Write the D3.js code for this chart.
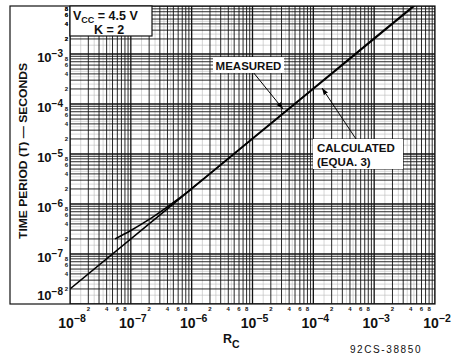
<!DOCTYPE html>
<html><head><meta charset="utf-8">
<script src="https://cdn.jsdelivr.net/npm/d3@7"></script>
<style>body{margin:0;background:#fff}svg{display:block}text{font-family:"Liberation Sans",Arial,sans-serif;fill:#111}</style>
</head><body>
<svg id="c" width="453" height="354"></svg>
<script>
// ---- data ----
const xDecadeExps = [-8, -7, -6, -5, -4, -3, -2];
const yDecadeExps = [-8, -7, -6, -5, -4, -3, -2];
const minorLabels = [2, 4, 6, 8];
const calcRC = [1e-8, 1e-6, 1e-4, 4.6e-3];
const calcT  = [2e-8, 2e-6, 2e-4, 9.2e-3];
const measRC = [5.5e-8, 1e-7, 2e-7, 4e-7, 7e-7, 1e-6, 1e-5, 1e-4, 1e-3, 4.6e-3];
const measT  = [2.0e-7, 2.95e-7, 4.9e-7, 8.8e-7, 1.45e-6, 2.05e-6, 2.05e-5, 2.06e-4, 2.07e-3, 9.5e-3];
const legendLines = ["4.5 V", "K = 2"];

// ---- layout ----
const svg = d3.select("#c");
const L = 70, R = 435, T = 6, B = 304;
const x = d3.scaleLog().domain([1e-8, 1e-2]).range([L, R]);
const y = d3.scaleLog().domain([1e-8, 1e-2]).range([B, 4]);

svg.append("defs").append("clipPath").attr("id","clip")
  .append("rect").attr("x",L).attr("y",T).attr("width",R-L).attr("height",B-T);
const g = svg.append("g").attr("clip-path","url(#clip)");

// grid values
const intVals = [], halfVals = [];
for (let e = -8; e < -2; e++) {
  const d = Math.pow(10, e);
  for (let m = 1; m <= 9; m++) intVals.push({v: m*d, major: m === 1});
  for (let m = 1; m <= 4; m++) halfVals.push((m+0.5)*d);
}
intVals.push({v: 1e-2, major: true});

// light grid
g.selectAll(".hx").data(halfVals).join("line")
  .attr("x1", d=>x(d)).attr("x2", d=>x(d)).attr("y1", T).attr("y2", B)
  .attr("stroke", "#bbb").attr("stroke-width", 0.6);
g.selectAll(".hy").data(halfVals).join("line")
  .attr("y1", d=>y(d)).attr("y2", d=>y(d)).attr("x1", L).attr("x2", R)
  .attr("stroke", "#bbb").attr("stroke-width", 0.6);
// dark grid
g.selectAll(".gx").data(intVals).join("line")
  .attr("x1", d=>x(d.v)).attr("x2", d=>x(d.v)).attr("y1", T).attr("y2", B)
  .attr("stroke", "#111").attr("stroke-width", d=>d.major?1.3:0.9);
g.selectAll(".gy").data(intVals).join("line")
  .attr("y1", d=>y(d.v)).attr("y2", d=>y(d.v)).attr("x1", L).attr("x2", R)
  .attr("stroke", "#111").attr("stroke-width", d=>d.major?1.3:0.9);

// curves
const line = d3.line().x(d=>x(d[0])).y(d=>y(d[1])).curve(d3.curveMonotoneX);
g.append("path").datum(d3.zip(calcRC, calcT)).attr("d", line)
  .attr("fill","none").attr("stroke","#000").attr("stroke-width",1.5);
g.append("path").datum(d3.zip(measRC, measT)).attr("d", line)
  .attr("fill","none").attr("stroke","#000").attr("stroke-width",1.5);

// frame
svg.append("rect").attr("x",10).attr("y",T).attr("width",R-10).attr("height",B-T)
  .attr("fill","none").attr("stroke","#111").attr("stroke-width",1.2);
svg.append("line").attr("x1",L).attr("x2",L).attr("y1",T).attr("y2",B)
  .attr("stroke","#111").attr("stroke-width",1.2);

// y decade labels
yDecadeExps.filter(e=>e<-2).forEach(e=>{
  const yy = y(Math.pow(10,e));
  const base = e === -8 ? yy - 4 : yy + 8;
  const t = svg.append("text").attr("x",63).attr("y",base).attr("text-anchor","end")
    .attr("font-size",13).attr("font-weight","bold");
  t.append("tspan").text("10");
  t.append("tspan").attr("dy",-5).attr("font-size",10).text("\u2212" + (-e));
});
// y minor labels
const yMinor = [];
for (let e = -8; e < -2; e++) minorLabels.forEach(m=>yMinor.push({v:m*Math.pow(10,e), m}));
minorLabels.forEach(m=>{ if (m*1e-3 < 9.5e-3) yMinor.push({v:m*1e-3, m}); });
svg.selectAll(".ym").data(yMinor).join("text")
  .attr("x",66.5).attr("y",d=>y(d.v)+2).attr("text-anchor","middle")
  .attr("font-size",6).attr("font-weight","bold").text(d=>d.m);

// x decade labels
xDecadeExps.forEach(e=>{
  const t = svg.append("text").attr("x",x(Math.pow(10,e))+2).attr("y",328).attr("text-anchor","middle")
    .attr("font-size",14).attr("font-weight","bold");
  t.append("tspan").text("10");
  t.append("tspan").attr("dy",-6).attr("font-size",10.5).text("\u2212" + (-e));
});
const xMinor = [];
for (let e = -8; e < -2; e++) minorLabels.forEach(m=>xMinor.push({v:m*Math.pow(10,e), m}));
svg.selectAll(".xm").data(xMinor).join("text")
  .attr("x",d=>x(d.v)).attr("y",311).attr("text-anchor","middle")
  .attr("font-size",6).attr("font-weight","bold").text(d=>d.m);

// axis titles
const rc = svg.append("text").attr("x",223).attr("y",343).attr("font-size",12.5).attr("font-weight","bold");
rc.append("tspan").text("R");
rc.append("tspan").attr("dy",5).attr("font-size",10.5).text("C");
svg.append("text").attr("transform","translate(27,151) rotate(-90)").attr("text-anchor","middle")
  .attr("font-size",11.5).attr("font-weight","bold").attr("textLength",176).attr("lengthAdjust","spacingAndGlyphs")
  .text("TIME PERIOD (T) \u2014 SECONDS");
svg.append("text").attr("x",386).attr("y",353).attr("text-anchor","middle")
  .attr("font-size",10).attr("letter-spacing",1.6).text("92CS-38850");

// legend box
svg.append("rect").attr("x",L).attr("y",T).attr("width",82).attr("height",30)
  .attr("fill","#fff").attr("stroke","#111").attr("stroke-width",1.2);
const l1 = svg.append("text").attr("x",73).attr("y",20).attr("font-size",12.5).attr("font-weight","bold");
l1.append("tspan").text("V");
l1.append("tspan").attr("dy",3).attr("font-size",9).text("CC");
l1.append("tspan").attr("dy",-3).text(" = " + legendLines[0]);
svg.append("text").attr("x",109).attr("y",34).attr("text-anchor","middle").attr("font-size",12.5)
  .attr("font-weight","bold").text(legendLines[1]);

// annotations
svg.append("defs").append("marker").attr("id","ah").attr("viewBox","0 0 10 10").attr("refX",10).attr("refY",5)
  .attr("markerWidth",7).attr("markerHeight",7).attr("orient","auto-start-reverse")
  .append("path").attr("d","M0,1.5 L10,5 L0,8.5 Z").attr("fill","#000");
svg.append("line").attr("x1",253).attr("y1",72).attr("x2",283).attr("y2",109)
  .attr("stroke","#000").attr("stroke-width",1).attr("marker-end","url(#ah)");
svg.append("line").attr("x1",356).attr("y1",139).attr("x2",322).attr("y2",88)
  .attr("stroke","#000").attr("stroke-width",1).attr("marker-end","url(#ah)");

svg.append("rect").attr("x",213).attr("y",57).attr("width",71).attr("height",16).attr("fill","#fff");
svg.append("text").attr("x",248.5).attr("y",70).attr("text-anchor","middle").attr("font-size",11.5)
  .attr("font-weight","bold").text("MEASURED");
svg.append("rect").attr("x",313).attr("y",139).attr("width",90).attr("height",30).attr("fill","#fff");
svg.append("text").attr("x",317).attr("y",152).attr("font-size",11.5).attr("font-weight","bold").text("CALCULATED");
svg.append("text").attr("x",317).attr("y",166).attr("font-size",11.5).attr("font-weight","bold").text("(EQUA. 3)");
</script>
</body></html>
